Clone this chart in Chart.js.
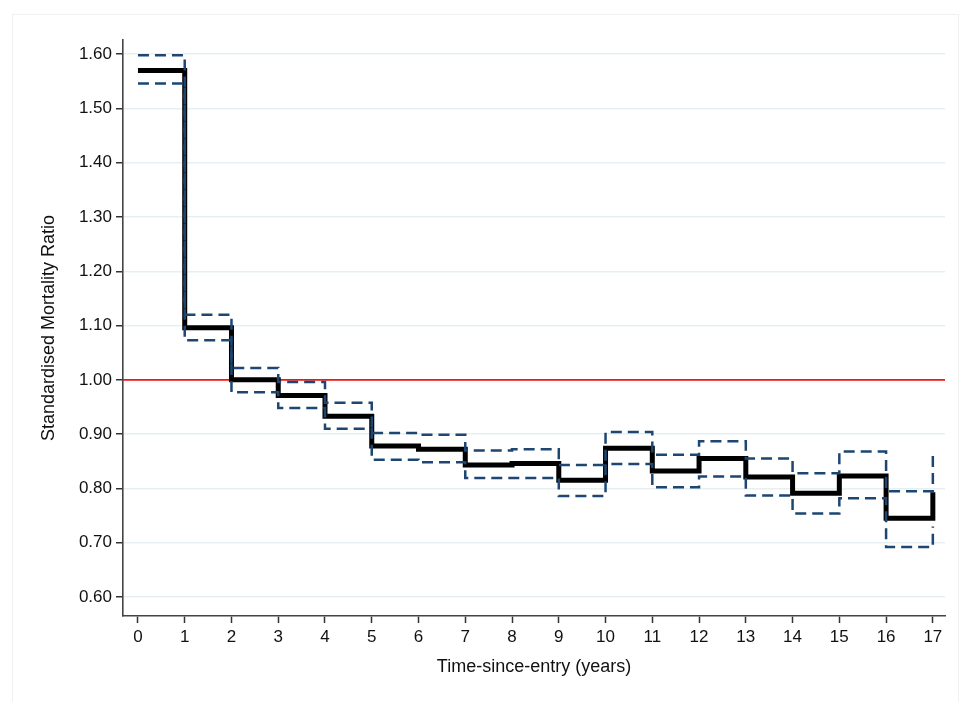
<!DOCTYPE html>
<html>
<head>
<meta charset="utf-8">
<script src="https://cdn.jsdelivr.net/npm/chart.js@4/dist/chart.umd.min.js"></script>
<style>
  html, body { margin: 0; padding: 0; background: #fff; }
  #wrap { width: 971px; height: 702px; position: relative; }
</style>
</head>
<body>
<div id="wrap"><canvas id="smrChart"></canvas></div>
<script>
// Time-since-entry (years), start of each interval
const years = [0, 1, 2, 3, 4, 5, 6, 7, 8, 9, 10, 11, 12, 13, 14, 15, 16, 17];
// SMR estimate and its 95% limits for each interval
const smr   = [1.570, 1.096, 1.000, 0.971, 0.933, 0.878, 0.872, 0.843, 0.846, 0.815, 0.874, 0.832, 0.855, 0.821, 0.791, 0.823, 0.745, 0.793];
const upper = [1.598, 1.120, 1.022, 0.996, 0.958, 0.902, 0.899, 0.870, 0.872, 0.843, 0.904, 0.862, 0.887, 0.855, 0.828, 0.868, 0.795, 0.865];
const lower = [1.546, 1.073, 0.977, 0.948, 0.910, 0.853, 0.848, 0.819, 0.819, 0.786, 0.845, 0.802, 0.822, 0.787, 0.754, 0.782, 0.692, 0.730];
// reference line
const refValue = 1.0;
// tick labels
const xTicks = [0, 1, 2, 3, 4, 5, 6, 7, 8, 9, 10, 11, 12, 13, 14, 15, 16, 17];
const yTicks = [0.6, 0.7, 0.8, 0.9, 1.0, 1.1, 1.2, 1.3, 1.4, 1.5, 1.6];

const xMin = -0.32, xMax = 17.26;
const yMin = 0.565, yMax = 1.626;

const pts = (arr) => years.map((x, i) => ({ x: x, y: arr[i] }));

// white page with the faint outer frame
const framePlugin = {
  id: "frame",
  beforeDraw: (chart) => {
    const ctx = chart.ctx;
    ctx.save();
    ctx.fillStyle = "#fff";
    ctx.fillRect(0, 0, chart.width, chart.height);
    ctx.strokeStyle = "#f0f0f0";
    ctx.lineWidth = 1;
    ctx.strokeRect(12.5, 14.5, 946, 690);
    ctx.restore();
  },
};

const dashBlue = "#1d4672";
const font = { family: "'Liberation Sans', Arial, sans-serif", size: 17 };

new Chart(document.getElementById("smrChart"), {
  type: "line",
  data: {
    datasets: [
      {
        label: "Upper",
        data: pts(upper),
        stepped: "before",
        borderColor: dashBlue,
        borderWidth: 2.5,
        borderDash: [11, 6],
        pointRadius: 0,
        fill: false,
      },
      {
        label: "Lower",
        data: pts(lower),
        stepped: "before",
        borderColor: dashBlue,
        borderWidth: 2.5,
        borderDash: [11, 6],
        pointRadius: 0,
        fill: false,
      },
      {
        label: "SMR",
        data: pts(smr),
        stepped: "before",
        borderColor: "#000",
        borderWidth: 5,
        pointRadius: 0,
        fill: false,
      },
      {
        label: "Reference",
        data: [{ x: xMin, y: refValue }, { x: xMax, y: refValue }],
        borderColor: "#ff1010",
        borderWidth: 1.6,
        pointRadius: 0,
        fill: false,
      },
    ],
  },
  plugins: [framePlugin],
  options: {
    responsive: true,
    maintainAspectRatio: false,
    animation: false,
    layout: { padding: { left: 38, right: 26, top: 40, bottom: 24 } },
    plugins: {
      legend: { display: false },
      tooltip: { enabled: false },
    },
    scales: {
      x: {
        type: "linear",
        min: xMin,
        max: xMax,
        afterBuildTicks: (scale) => {
          scale.ticks = xTicks.map((v) => ({ value: v }));
        },
        afterFit: (scale) => {
          scale.height = 62;
        },
        grid: {
          drawOnChartArea: false,
          drawTicks: true,
          tickLength: 7,
          tickColor: "#333",
          tickWidth: 1.5,
        },
        border: { display: true, color: "#444", width: 1.6 },
        ticks: {
          color: "#111",
          font: font,
          padding: 4,
          maxRotation: 0,
          autoSkip: false,
          callback: (v) => String(v),
        },
        title: {
          display: true,
          text: "Time-since-entry (years)",
          color: "#111",
          font: { family: font.family, size: 18 },
          padding: 0,
        },
      },
      y: {
        type: "linear",
        min: yMin,
        max: yMax,
        afterBuildTicks: (scale) => {
          scale.ticks = yTicks.map((v) => ({ value: v }));
        },
        afterFit: (scale) => {
          scale.width = 85;
        },
        grid: {
          color: "#e6eff2",
          lineWidth: 1.5,
          drawTicks: true,
          tickLength: 7,
          tickColor: "#333",
          tickWidth: 1.5,
        },
        border: { display: true, color: "#444", width: 1.6 },
        ticks: {
          color: "#111",
          font: font,
          padding: 4,
          autoSkip: false,
          callback: (v) => Number(v).toFixed(2),
        },
        title: {
          display: true,
          text: "Standardised Mortality Ratio",
          color: "#111",
          font: { family: font.family, size: 18 },
          padding: 0,
        },
      },
    },
  },
});
</script>
</body>
</html>
